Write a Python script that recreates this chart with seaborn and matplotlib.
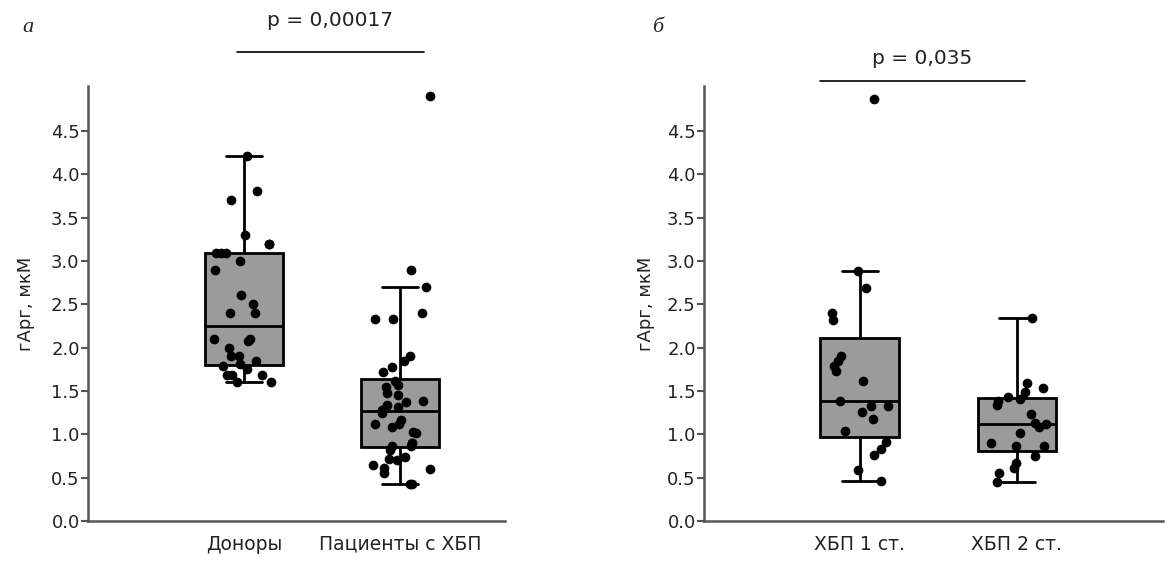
import numpy as np
import pandas as pd
import matplotlib
matplotlib.use('Agg')
import matplotlib.pyplot as plt
import matplotlib.transforms as mtransforms
import seaborn as sns

# values (hArg, uM)
donors = [4.21, 3.81, 3.70, 3.30, 3.20, 3.20, 3.09, 3.09, 3.09, 3.00, 2.90,
          2.61, 2.50, 2.40, 2.40, 2.10, 2.10, 2.08, 2.00, 1.90, 1.90, 1.85,
          1.81, 1.79, 1.75, 1.69, 1.69, 1.69, 1.60, 1.60]
ckd = [4.91, 2.90, 2.70, 2.40, 2.33, 2.33, 1.90, 1.85, 1.78, 1.72, 1.61,
       1.57, 1.55, 1.48, 1.45, 1.38, 1.37, 1.34, 1.32, 1.32, 1.28, 1.25,
       1.16, 1.12, 1.12, 1.09, 1.03, 1.01, 0.90, 0.90, 0.86, 0.86, 0.82,
       0.74, 0.72, 0.70, 0.65, 0.61, 0.60, 0.55, 0.43, 0.43]
ckd1 = [4.87, 2.89, 2.69, 2.40, 2.32, 1.90, 1.85, 1.79, 1.73, 1.61, 1.38,
        1.33, 1.33, 1.26, 1.18, 1.04, 0.91, 0.83, 0.76, 0.59, 0.46]
ckd2 = [2.34, 1.59, 1.53, 1.49, 1.43, 1.41, 1.38, 1.34, 1.23, 1.13, 1.12,
        1.09, 1.01, 0.90, 0.87, 0.86, 0.75, 0.67, 0.61, 0.55, 0.45]

groups_a = ['Доноры', 'Пациенты с ХБП']
groups_b = ['ХБП 1 ст.', 'ХБП 2 ст.']
p_a = 'p = 0,00017'
p_b = 'p = 0,035'
ylabel = 'гАрг, мкМ'

sns.set_style('ticks')
plt.rcParams['font.family'] = ['DejaVu Sans']
np.random.seed(3)


def box_stats(vals, label):
    x = np.asarray(vals)
    q1, med, q3 = np.percentile(x, [25, 50, 75], method='weibull')
    iqr = q3 - q1
    hi = x[x <= q3 + 1.5 * iqr].max()
    lo = x[x >= q1 - 1.5 * iqr].min()
    return dict(label=label, q1=q1, med=med, q3=q3, whislo=lo, whishi=hi, fliers=[])


def panel(ax, names, series, xlim, ylab_x):
    df = pd.DataFrame({'group': np.repeat(names, [len(s) for s in series]),
                       'value': np.concatenate(series)})
    stats = [box_stats(s, n) for s, n in zip(series, names)]
    ax.bxp(stats, positions=[0, 1], widths=0.5, patch_artist=True, showfliers=False,
           capwidths=0.23,
           boxprops=dict(facecolor='#9b9b9b', edgecolor='black', linewidth=2.0),
           medianprops=dict(color='black', linewidth=2.0),
           whiskerprops=dict(color='black', linewidth=2.0),
           capprops=dict(color='black', linewidth=2.0), zorder=1)
    sns.stripplot(data=df, x='group', y='value', order=names, color='black',
                  size=7, jitter=0.2, ax=ax, zorder=3)
    ax.set_xlim(*xlim)
    ax.set_ylim(0, 5.02)
    ticks = np.arange(0, 5.0, 0.5)
    ax.set_yticks(ticks)
    ax.set_yticklabels(['%.1f' % t for t in ticks])
    ax.set_xticks([0, 1])
    ax.set_xticklabels(names, fontsize=13.5)
    ax.tick_params(axis='x', length=0, pad=10, colors='#222222')
    ax.tick_params(axis='y', length=5, width=1.5, color='#555555', labelsize=13,
                   labelcolor='#222222', pad=1)
    ax.set_xlabel('')
    ax.set_ylabel(ylabel, fontsize=13, color='#222222')
    ax.yaxis.set_label_coords(ylab_x, 0.5)
    sns.despine(ax=ax)
    for s in ['left', 'bottom']:
        ax.spines[s].set_color('#555555')
        ax.spines[s].set_linewidth(1.8)


fig = plt.figure(figsize=(11.67, 5.65), dpi=100)
ax1 = fig.add_axes([88 / 1167, 44 / 565, 417 / 1167, 435 / 565])
ax2 = fig.add_axes([704 / 1167, 44 / 565, 459 / 1167, 435 / 565])

panel(ax1, groups_a, [donors, ckd], (-1.0, 1.67), -0.127)
panel(ax2, groups_b, [ckd1, ckd2], (-0.99, 1.93), -0.107)

# significance bars
for ax, txt, x0, x1, ytxt, yline in [(ax1, p_a, -0.045, 1.15, 0.963, 0.908),
                                     (ax2, p_b, -0.25, 1.05, 0.897, 0.857)]:
    tr = mtransforms.blended_transform_factory(ax.transData, fig.transFigure)
    ax.plot([x0, x1], [yline, yline], color='black', lw=1.2, transform=tr, clip_on=False)
    ax.text((x0 + x1) / 2, ytxt, txt, transform=tr, ha='center', va='center',
            fontsize=14.5, color='#222222')

fig.text(22 / 1167, 1 - 28 / 565, 'а', family=['Liberation Serif', 'DejaVu Serif'],
         style='italic', fontsize=16, va='center')
fig.text(652 / 1167, 1 - 28 / 565, 'б', family=['Liberation Serif', 'DejaVu Serif'],
         style='italic', fontsize=16, va='center')

fig.savefig('out.png', dpi=100)
